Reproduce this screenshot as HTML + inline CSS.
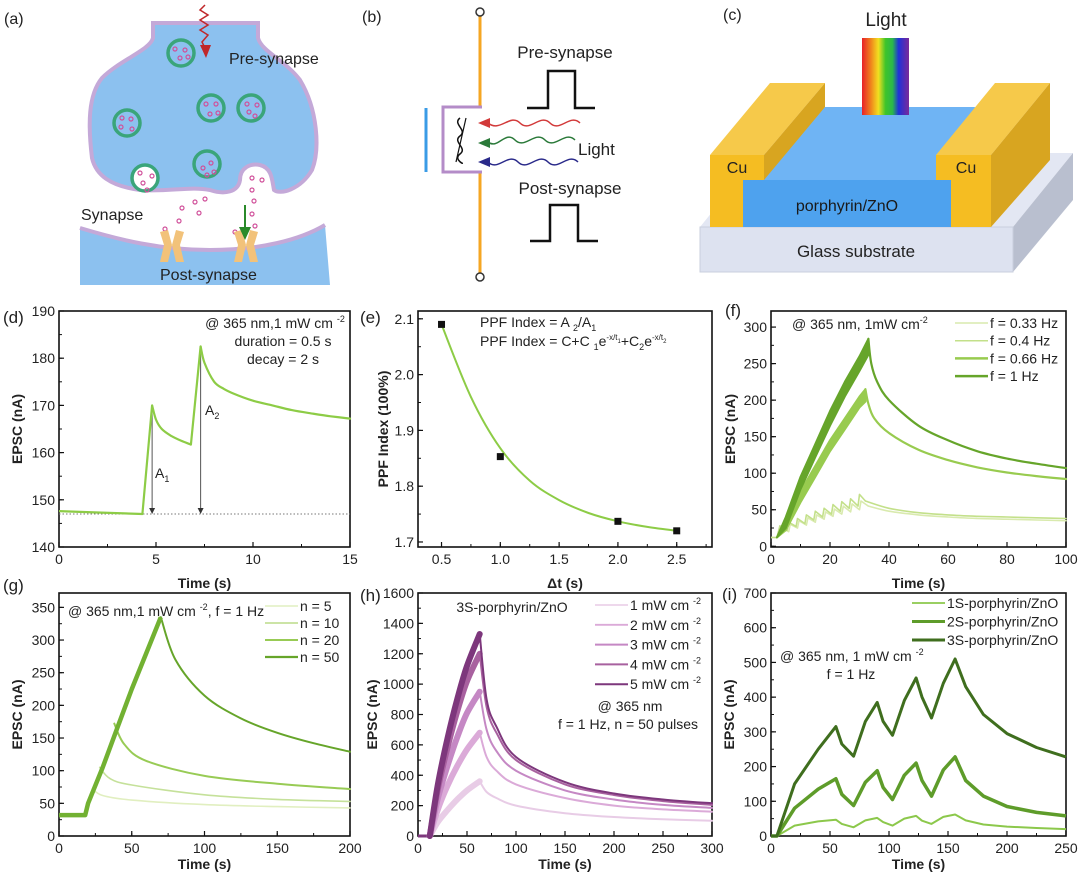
<!DOCTYPE html>
<html><head><meta charset="utf-8"><title>Optoelectronic synapse figure</title>
<style>
html,body{margin:0;padding:0;background:#fff;}
svg{display:block;font-family:"Liberation Sans",Arial,sans-serif;}
.t{font-size:15px;fill:#222;}
.pl{font-size:16px;fill:#222;}
</style></head>
<body>
<svg id="fig" width="1080" height="877" viewBox="0 0 1080 877" xmlns="http://www.w3.org/2000/svg">
<rect x="0" y="0" width="1080" height="877" fill="#fff"/>

<!-- (a) synapse diagram -->
<g>
  <text class="pl" x="4" y="24">(a)</text>
  <path d="M80,228 C120,240 160,250 210,250 C260,250 300,240 325,225 L330,285 L80,285 Z" fill="#8cc1ef"/>
  <path d="M80,228 C120,240 160,250 210,250 C260,250 300,240 325,225" fill="none" stroke="#c4a9d8" stroke-width="4"/>
  <path d="M153,23 L153,38 C150,50 120,60 102,78 C88,95 88,125 92,158 C96,175 110,186 140,190 C170,192 190,186 210,190 C225,195 238,192 240,180 C240,168 250,163 260,165 C272,168 272,180 274,190 C280,195 300,190 312,170 C320,150 318,110 300,80 C285,60 262,52 258,38 L258,23 Z" fill="#8cc1ef" stroke="#c4a9d8" stroke-width="4"/>
  <g fill="#8cc1ef" stroke="#3aa57a" stroke-width="3.5">
    <circle cx="181" cy="53" r="13"/><circle cx="211" cy="108" r="13"/><circle cx="251" cy="108" r="13"/>
    <circle cx="127" cy="123" r="13"/><circle cx="207" cy="164" r="13"/><circle cx="145" cy="178" r="13" fill="#fff"/>
  </g>
  <g fill="none" stroke="#d0509a" stroke-width="1.2">
    <circle cx="175" cy="49" r="2"/><circle cx="185" cy="50" r="2"/><circle cx="180" cy="58" r="2"/><circle cx="188" cy="57" r="2"/>
    <circle cx="206" cy="104" r="2"/><circle cx="216" cy="104" r="2"/><circle cx="210" cy="114" r="2"/><circle cx="218" cy="113" r="2"/>
    <circle cx="247" cy="104" r="2"/><circle cx="257" cy="105" r="2"/><circle cx="249" cy="112" r="2"/><circle cx="255" cy="116" r="2"/>
    <circle cx="122" cy="118" r="2"/><circle cx="131" cy="119" r="2"/><circle cx="121" cy="127" r="2"/><circle cx="132" cy="129" r="2"/>
    <circle cx="203" cy="168" r="2"/><circle cx="211" cy="163" r="2"/><circle cx="214" cy="172" r="2"/><circle cx="207" cy="175" r="2"/>
    <circle cx="140" cy="173" r="2"/><circle cx="152" cy="176" r="2"/><circle cx="143" cy="183" r="2"/><circle cx="147" cy="190" r="2"/>
    <circle cx="252" cy="178" r="2"/><circle cx="262" cy="180" r="2"/><circle cx="252" cy="190" r="2"/><circle cx="254" cy="201" r="2"/>
    <circle cx="252" cy="214" r="2"/><circle cx="255" cy="226" r="2"/><circle cx="235" cy="232" r="2"/>
    <circle cx="205" cy="199" r="2"/><circle cx="195" cy="202" r="2"/><circle cx="182" cy="208" r="2"/><circle cx="199" cy="213" r="2"/>
    <circle cx="179" cy="221" r="2"/><circle cx="165" cy="229" r="2"/>
  </g>
  <g fill="#f2c27a">
    <path d="M160,232 L168,230 L172,245 L168,262 L160,262 L164,245 Z"/><path d="M184,232 L176,230 L172,245 L176,262 L184,262 L180,245 Z"/>
    <path d="M234,232 L242,230 L246,245 L242,262 L234,262 L238,245 Z"/><path d="M258,232 L250,230 L246,245 L250,262 L258,262 L254,245 Z"/>
  </g>
  <path d="M205,5 L200,10 L208,15 L200,20 L208,25 L200,30 L208,35 L202,42 L206,50" fill="none" stroke="#c0282a" stroke-width="1.5"/>
  <path d="M200,45 L206,58 L211,45 Z" fill="#c0282a"/>
  <line x1="245" y1="205" x2="245" y2="232" stroke="#2a8a2a" stroke-width="2"/>
  <path d="M239,227 L245,240 L251,227 Z" fill="#2a8a2a"/>
  <text x="229" y="64" font-size="16" fill="#222">Pre-synapse</text>
  <text x="81" y="220" font-size="16" fill="#222">Synapse</text>
  <text x="160" y="280" font-size="16" fill="#222">Post-synapse</text>
</g>

<!-- (b) circuit -->
<g>
  <text class="pl" x="362" y="22">(b)</text>
  <line x1="480" y1="16" x2="480" y2="106" stroke="#f5a623" stroke-width="3"/>
  <line x1="480" y1="171" x2="480" y2="273" stroke="#f5a623" stroke-width="3"/>
  <circle cx="480" cy="12" r="4" fill="#fff" stroke="#333" stroke-width="1.5"/>
  <circle cx="480" cy="277" r="4" fill="#fff" stroke="#333" stroke-width="1.5"/>
  <path d="M482,107 L443,107 L443,172 L482,172" fill="none" stroke="#b48cc8" stroke-width="3"/>
  <line x1="426" y1="108" x2="426" y2="172" stroke="#3a9be6" stroke-width="3"/>
  <path d="M460,118 C452,124 468,130 460,136 C452,142 468,148 460,154 C452,160 468,166 460,162" fill="none" stroke="#111" stroke-width="1.5"/>
  <line x1="456" y1="162" x2="466" y2="118" stroke="#111" stroke-width="1.2"/>
  <path d="M580,123 C570,113 560,133 550,123 C540,113 530,133 520,123 C510,113 500,133 488,123" fill="none" stroke="#d23a3a" stroke-width="1.5"/>
  <path d="M478,123 L490,118 L490,128 Z" fill="#d23a3a"/>
  <path d="M575,140 C565,130 555,150 545,140 C535,130 525,150 515,140 C505,130 498,150 488,142" fill="none" stroke="#2b7a3a" stroke-width="1.5"/>
  <path d="M478,143 L490,138 L490,148 Z" fill="#2b7a3a"/>
  <path d="M578,162 C568,152 558,172 548,162 C538,152 528,172 518,162 C508,152 498,172 488,162" fill="none" stroke="#2a2a8a" stroke-width="1.5"/>
  <path d="M478,162 L490,157 L490,167 Z" fill="#2a2a8a"/>
  <text x="578" y="155" font-size="17" fill="#222">Light</text>
  <text x="565" y="58" font-size="17" fill="#222" text-anchor="middle">Pre-synapse</text>
  <path d="M527,108 L548,108 L548,71 L575,71 L575,108 L595,108" fill="none" stroke="#111" stroke-width="2.5"/>
  <text x="570" y="194" font-size="17" fill="#222" text-anchor="middle">Post-synapse</text>
  <path d="M530,241 L550,241 L550,205 L578,205 L578,241 L598,241" fill="none" stroke="#111" stroke-width="2.5"/>
</g>

<!-- (c) device -->
<g>
  <defs>
    <linearGradient id="spec" x1="0" x2="1" y1="0" y2="0">
      <stop offset="0" stop-color="#e8202a"/><stop offset="0.2" stop-color="#f08a1c"/><stop offset="0.35" stop-color="#f2e020"/>
      <stop offset="0.5" stop-color="#3ec42a"/><stop offset="0.65" stop-color="#2ab84a"/><stop offset="0.78" stop-color="#2030d8"/><stop offset="1" stop-color="#7a2a9a"/>
    </linearGradient>
  </defs>
  <text class="pl" x="723" y="20">(c)</text>
  <polygon points="700,227 1013,227 1073,153 760,153" fill="#e3e7f3"/>
  <polygon points="1013,227 1073,153 1073,200 1013,272" fill="#b9bfcf"/>
  <rect x="700" y="227" width="313" height="45" fill="#dde2f0" stroke="#c9cfde"/>
  <text x="856" y="257" font-size="17" fill="#222" text-anchor="middle">Glass substrate</text>
  <polygon points="743,180 951,180 975,107 825,107" fill="#6fb4f4"/>
  <rect x="743" y="180" width="208" height="47" fill="#4ea2ee"/>
  <text x="847" y="211" font-size="16" fill="#1a1a1a" text-anchor="middle">porphyrin/ZnO</text>
  <polygon points="710,155 764,155 825,83 770,83" fill="#f6c94a"/>
  <polygon points="764,155 825,83 825,107 764,180" fill="#d8a520"/>
  <rect x="710" y="155" width="33" height="72" fill="#f5bd22"/>
  <rect x="743" y="155" width="21" height="25" fill="#f5bd22"/>
  <text x="737" y="173" font-size="16" fill="#222" text-anchor="middle">Cu</text>
  <polygon points="936,155 991,155 1050,83 995,83" fill="#f6c94a"/>
  <polygon points="991,155 1050,83 1050,160 991,227" fill="#d8a520"/>
  <rect x="951" y="155" width="40" height="72" fill="#f5bd22"/>
  <rect x="936" y="155" width="15" height="25" fill="#f5bd22"/>
  <text x="966" y="173" font-size="16" fill="#222" text-anchor="middle">Cu</text>
  <rect x="862" y="38" width="47" height="77" fill="url(#spec)"/>
  <text x="886" y="26" font-size="19" fill="#222" text-anchor="middle">Light</text>
</g>

<g id="charts"></g>
</svg>

<script>
// ---------- (d) paired-pulse EPSC ----------
const dTime = [0,2,4.3,4.8,5.0,5.3,5.8,6.3,6.8,7.3,7.5,8,8.5,9,10,11,12,13,14,15];
const dEPSC = [147.6,147.3,147,170,167,165,163.5,162.5,161.7,182.5,179,175,173.5,172.5,171,170,169,168.3,167.7,167.2];
const dBaseline = 147;
const dPulseTimes = [4.8,7.3];
const dPeaks = [170,182.5];
const dXTicks = [0,5,10,15];
const dYTicks = [140,150,160,170,180,190];
// ---------- (e) PPF index ----------
const eDt = [0.5,1.0,2.0,2.5];
const ePPF = [2.09,1.853,1.737,1.72];
const eFitDt = [0.5,0.75,1.0,1.25,1.5,1.75,2.0,2.25,2.5];
const eFitPPF = [2.09,1.96,1.868,1.81,1.775,1.752,1.737,1.727,1.72];
const eXTicks = [0.5,1.0,1.5,2.0,2.5];
const eYTicks = [1.7,1.8,1.9,2.0,2.1];
// ---------- (f) frequency dependence ----------
const f033T = [0,2,3,3.5,6,6.5,9,9.5,12,12.5,15,15.5,18,18.5,21,21.5,24,24.5,27,27.5,30,30.5,33,40,50,60,70,80,90,100];
const f033V = [12,12,18,25,20,30,25,35,29,39,33,43,37,47,41,51,44,55,47,58,50,62,55,48,43,40,38,37,36,35];
const f04T = [0,2,2.5,3,5.5,6,8.5,9,11.5,12,14.5,15,17.5,18,20.5,21,23.5,24,26.5,27,29.5,30,32,40,50,60,70,80,90,100];
const f04V = [12,12,20,28,22,33,27,38,31,43,36,48,40,52,44,57,48,61,52,65,55,71,62,52,46,43,41,40,39,38];
const f066RiseT = [2,5,10,15,20,25,30,32];
const f066RiseHi = [12,35,75,110,145,175,205,215];
const f066RiseLo = [12,22,60,95,130,160,190,198];
const f066DecayT = [32,33,35,40,50,60,70,80,90,100];
const f066DecayV = [215,195,175,155,132,118,108,101,96,92];
const f1RiseT = [2,5,10,15,20,25,30,33];
const f1RiseHi = [12,40,95,140,185,225,260,284];
const f1RiseLo = [12,25,78,122,165,205,240,262];
const f1DecayT = [33,34,36,40,50,60,70,80,90,100];
const f1DecayV = [284,250,225,200,165,145,130,120,113,107];
const fXTicks = [0,20,40,60,80,100];
const fYTicks = [0,50,100,150,200,250,300];
const fLegend = ["f = 0.33 Hz","f = 0.4 Hz","f = 0.66 Hz","f = 1 Hz"];
// ---------- (g) pulse-number dependence ----------
const gRiseT = [0,18,20,30,40,50,60,70];
const gRiseV = [32,32,50,105,165,225,280,335];
const gN5T = [23,30,50,100,150,200];   const gN5V = [72,62,55,48,45,43];
const gN10T = [28,35,50,100,150,200];  const gN10V = [105,88,78,63,56,53];
const gN20T = [38,45,60,100,150,200];  const gN20V = [172,140,115,92,80,72];
const gN50T = [70,80,100,125,150,175,200]; const gN50V = [335,270,215,180,158,142,129];
const gXTicks = [0,50,100,150,200];
const gYTicks = [0,50,100,150,200,250,300,350];
const gLegend = ["n = 5","n = 10","n = 20","n = 50"];
// ---------- (h) intensity dependence ----------
const hRiseT = [12,20,30,40,50,63];
const hDecayT = [63,70,80,100,150,200,250,300];
const hRise1 = [0,90,170,240,300,360];     const hDecay1 = [360,290,250,200,150,125,110,100];
const hRise2 = [0,170,330,460,570,680];    const hDecay2 = [680,520,430,340,250,200,175,160];
const hRise3 = [0,240,460,650,810,950];    const hDecay3 = [950,700,560,430,300,240,205,185];
const hRise4 = [0,300,580,820,1020,1200];  const hDecay4 = [1200,850,680,500,340,270,230,205];
const hRise5 = [0,330,640,900,1120,1330];  const hDecay5 = [1330,900,720,520,355,280,240,215];
const hBaseT = [0,12];
const hBaseV = [0,0];
const hXTicks = [0,50,100,150,200,250,300];
const hYTicks = [0,200,400,600,800,1000,1200,1400,1600];
const hLegend = ["1 mW cm","2 mW cm","3 mW cm","4 mW cm","5 mW cm"];
// ---------- (i) porphyrin layers ----------
const iTime = [0,5,20,40,55,60,70,80,90,95,103,113,123,128,136,146,156,165,180,200,225,250];
const i1S = [0,0,30,42,47,35,25,45,52,40,30,50,58,44,35,55,62,45,33,27,23,20];
const i2S = [0,0,80,135,165,120,88,155,188,140,105,175,210,160,115,190,228,160,115,85,68,58];
const i3S = [0,0,150,250,315,265,230,330,385,330,290,390,455,400,340,440,510,430,350,295,255,228];
const iXTicks = [0,50,100,150,200,250];
const iYTicks = [0,100,200,300,400,500,600,700];
const iLegend = ["1S-porphyrin/ZnO","2S-porphyrin/ZnO","3S-porphyrin/ZnO"];

const NS = 'http://www.w3.org/2000/svg';
const root = document.getElementById('charts');
function mk(tag, attrs, parent){
  const el = document.createElementNS(NS, tag);
  for (const k in attrs) el.setAttribute(k, attrs[k]);
  (parent || root).appendChild(el);
  return el;
}
function makeChart(o){
  const g = mk('g', {});
  
  
  o.g = g;
  o.sx = v => o.x0 + (v - o.xmin) / (o.xmax - o.xmin) * (o.x1 - o.x0);
  o.sy = v => o.y1 - (v - o.ymin) / (o.ymax - o.ymin) * (o.y1 - o.y0);
  return o;
}
function drawAxes(c, xt, yt, xm, ym, fmtX, fmtY){
  const ax = mk('g', {}, c.g);
  
  
  xt.forEach(v => {
    const x = c.sx(v);
    mk('line', {x1:x, x2:x, y1:c.y1, y2:c.y1-5, stroke:'#111', 'stroke-width':1.2}, ax);
    const t = mk('text', {x:x, y:c.y1+17, 'text-anchor':'middle', 'font-size':14, fill:'#222'}, ax);
    t.textContent = fmtX(v);
    
    
  });
  for (let v = xm[0]; v <= c.xmax + 1e-9; v += xm[1]) {
    const x = c.sx(v);
    if (x < c.x0 || x > c.x1) continue;
    mk('line', {x1:x, x2:x, y1:c.y1, y2:c.y1-3, stroke:'#111', 'stroke-width':1}, ax);
  }
  yt.forEach(v => {
    const y = c.sy(v);
    mk('line', {x1:c.x0, x2:c.x0+5, y1:y, y2:y, stroke:'#111', 'stroke-width':1.2}, ax);
    const t = mk('text', {x:c.x0-4, y:y+5, 'text-anchor':'end', 'font-size':14, fill:'#222'}, ax);
    t.textContent = fmtY(v);
    
    
  });
  for (let v = ym[0]; v <= c.ymax + 1e-9; v += ym[1]) {
    const y = c.sy(v);
    if (y < c.y0 || y > c.y1) continue;
    mk('line', {x1:c.x0, x2:c.x0+3, y1:y, y2:y, stroke:'#111', 'stroke-width':1}, ax);
  }
  const fr = mk('rect', {x:c.x0, y:c.y0, width:c.x1-c.x0, height:c.y1-c.y0, fill:'none', stroke:'#111', 'stroke-width':1.6}, ax);
  
  
  const xl = mk('text', {x:(c.x0+c.x1)/2, y:c.xTitleY, 'text-anchor':'middle', 'font-size':14, 'font-weight':'bold', fill:'#222'}, ax);
  xl.textContent = c.xTitle;
  
  
  const yl = mk('text', {x:0, y:0, transform:`translate(${c.yTitleX},${(c.y0+c.y1)/2}) rotate(-90)`, 'text-anchor':'middle', 'font-size':14, 'font-weight':'bold', fill:'#222'}, ax);
  yl.textContent = c.yTitle;
  
  
  const pl = mk('text', {x:c.plx, y:c.ply, 'font-size':17, fill:'#222'}, ax);
  pl.textContent = c.label;
  
  
}
function pts(c, ts, vs){ return ts.map((t,i) => c.sx(t).toFixed(1) + ',' + c.sy(vs[i]).toFixed(1)).join(' '); }
function series(c, ts, vs, color, w, name){
  const p = mk('polyline', {points:pts(c, ts, vs), fill:'none', stroke:color, 'stroke-width':w, 'stroke-linejoin':'round'}, c.g);
  
  
  return p;
}
function smoothD(c, ts, vs){
  const P = ts.map((t,i) => [c.sx(t), c.sy(vs[i])]);
  let d = 'M' + P[0][0].toFixed(1) + ',' + P[0][1].toFixed(1);
  for (let i = 0; i < P.length - 1; i++) {
    const p0 = P[Math.max(0,i-1)], p1 = P[i], p2 = P[i+1], p3 = P[Math.min(P.length-1,i+2)];
    const c1x = p1[0] + (p2[0]-p0[0])/6, c1y = p1[1] + (p2[1]-p0[1])/6;
    const c2x = p2[0] - (p3[0]-p1[0])/6, c2y = p2[1] - (p3[1]-p1[1])/6;
    d += ` C${c1x.toFixed(1)},${c1y.toFixed(1)} ${c2x.toFixed(1)},${c2y.toFixed(1)} ${p2[0].toFixed(1)},${p2[1].toFixed(1)}`;
  }
  return d;
}
function smooth(c, ts, vs, color, w, name){
  const p = mk('path', {d:smoothD(c, ts, vs), fill:'none', stroke:color, 'stroke-width':w, 'stroke-linejoin':'round', 'stroke-linecap':'round'}, c.g);
  
  
  return p;
}
function band(c, ts, hi, lo, color, name){
  const a = ts.map((t,i) => c.sx(t).toFixed(1)+','+c.sy(hi[i]).toFixed(1));
  const b = ts.map((t,i) => c.sx(t).toFixed(1)+','+c.sy(lo[i]).toFixed(1)).reverse();
  const p = mk('polygon', {points:a.concat(b).join(' '), fill:color, stroke:color, 'stroke-width':2, 'stroke-linejoin':'round'}, c.g);
  
  
}
function txt(c, x, y, s, anchor, size, name){
  const t = mk('text', {x:x, y:y, 'text-anchor':anchor||'start', 'font-size':size||14, fill:'#222'}, c.g);
  t.innerHTML = s;
  
  
  return t;
}
function legend(c, x, y0, dy, labels, colors, widths, sup, size){
  labels.forEach((lab, i) => {
    const y = y0 + i*dy;
    const l = mk('line', {x1:x, x2:x+33, y1:y, y2:y, stroke:colors[i], 'stroke-width':widths[i]}, c.g);
    
    
    const t = mk('text', {x:x+35, y:y+5, 'font-size':size||14, fill:'#222'}, c.g);
    t.innerHTML = lab + (sup ? ' <tspan font-size="9" dy="-6">-2</tspan>' : '');
    
    
  });
}
const f0 = v => String(v), f1 = v => v.toFixed(1);

// ---- (d) ----
const cd = makeChart({name:'chart-d', x0:59, x1:350, y0:311, y1:547, xmin:0, xmax:15, ymin:140, ymax:190,
  xTitle:'Time (s)', yTitle:'EPSC (nA)', xTitleY:588, yTitleX:22, label:'(d)', plx:3, ply:323});
drawAxes(cd, dXTicks, dYTicks, [0,2.5], [140,5], f0, f0);
const dl = mk('line', {x1:cd.sx(0), x2:cd.sx(15), y1:cd.sy(dBaseline), y2:cd.sy(dBaseline), stroke:'#777', 'stroke-width':1, 'stroke-dasharray':'1.5,2'}, cd.g);


dPulseTimes.forEach((t,i) => {
  const a = mk('line', {x1:cd.sx(t), x2:cd.sx(t), y1:cd.sy(dPeaks[i]), y2:cd.sy(dBaseline)-3, stroke:'#555', 'stroke-width':1}, cd.g);
  
  
  mk('path', {d:`M${cd.sx(t)-3},${cd.sy(dBaseline)-6} L${cd.sx(t)},${cd.sy(dBaseline)} L${cd.sx(t)+3},${cd.sy(dBaseline)-6} Z`, fill:'#333'}, cd.g);
});
series(cd, dTime.slice(0,4), dEPSC.slice(0,4), '#8dcc46', 2.2, 'epsc-trace-baseline-rise1');
smooth(cd, dTime.slice(3,9), dEPSC.slice(3,9), '#8dcc46', 2.2, 'epsc-trace-decay1');
series(cd, dTime.slice(8,10), dEPSC.slice(8,10), '#8dcc46', 2.2, 'epsc-trace-rise2');
smooth(cd, dTime.slice(9), dEPSC.slice(9), '#8dcc46', 2.2, 'epsc-trace-decay2');
txt(cd, 155, 478, 'A<tspan font-size="9" dy="4">1</tspan>', 'start', 14, 'a1-label');
txt(cd, 205, 415, 'A<tspan font-size="9" dy="4">2</tspan>', 'start', 14, 'a2-label');
txt(cd, 275, 328, '@ 365 nm,1 mW cm <tspan font-size="9" dy="-6">-2</tspan>', 'middle', 14, 'condition-note');
txt(cd, 283, 346, 'duration = 0.5 s', 'middle', 14, 'duration-note');
txt(cd, 283, 364, 'decay = 2 s', 'middle', 14, 'decay-note');

// ---- (e) ----
const ce = makeChart({name:'chart-e', x0:418, x1:712, y0:311, y1:547, xmin:0.3, xmax:2.8, ymin:1.691, ymax:2.114,
  xTitle:'\u0394t (s)', yTitle:'PPF Index (100%)', xTitleY:588, yTitleX:388, label:'(e)', plx:360, ply:323});
drawAxes(ce, eXTicks, eYTicks, [0.5,0.25], [1.7,0.05], f1, f1);
smooth(ce, eFitDt, eFitPPF, '#8dcc46', 2, 'ppf-fit-curve');
eDt.forEach((t,i) => {
  const r = mk('rect', {x:ce.sx(t)-3.5, y:ce.sy(ePPF[i])-3.5, width:7, height:7, fill:'#111'}, ce.g);
  
  
});
txt(ce, 480, 327, 'PPF Index = A <tspan font-size="9" dy="4">2</tspan><tspan dy="-4">/A</tspan><tspan font-size="9" dy="4">1</tspan>', 'start', 14, 'ppf-formula-1');
txt(ce, 480, 346, 'PPF Index = C+C <tspan font-size="9" dy="4">1</tspan><tspan dy="-4">e</tspan><tspan font-size="8" dy="-6">-x/t</tspan><tspan font-size="6" dy="3">1</tspan><tspan dy="3">+C</tspan><tspan font-size="9" dy="4">2</tspan><tspan dy="-4">e</tspan><tspan font-size="8" dy="-6">-x/t</tspan><tspan font-size="6" dy="3">2</tspan>', 'start', 14, 'ppf-formula-2');

// ---- (f) ----
const cf = makeChart({name:'chart-f', x0:771, x1:1066, y0:311, y1:547, xmin:0, xmax:100, ymin:-1, ymax:322,
  xTitle:'Time (s)', yTitle:'EPSC (nA)', xTitleY:588, yTitleX:735, label:'(f)', plx:725, ply:316});
drawAxes(cf, fXTicks, fYTicks, [0,10], [0,25], f0, f0);
const fColors = ['#d9eaae','#c3e08a','#98cb4f','#66a52a'];
series(cf, f033T.slice(0,23), f033V.slice(0,23), fColors[0], 1.6, 'series-f-0.33hz-rise');
smooth(cf, f033T.slice(22), f033V.slice(22), fColors[0], 1.6, 'series-f-0.33hz-decay');
series(cf, f04T.slice(0,23), f04V.slice(0,23), fColors[1], 1.6, 'series-f-0.4hz-rise');
smooth(cf, f04T.slice(22), f04V.slice(22), fColors[1], 1.6, 'series-f-0.4hz-decay');
band(cf, f066RiseT, f066RiseHi, f066RiseLo, fColors[2], 'series-f-0.66hz-rise');
smooth(cf, f066DecayT, f066DecayV, fColors[2], 2.2, 'series-f-0.66hz-decay');
band(cf, f1RiseT, f1RiseHi, f1RiseLo, fColors[3], 'series-f-1hz-rise');
smooth(cf, f1DecayT, f1DecayV, fColors[3], 2.2, 'series-f-1hz-decay');
txt(cf, 792, 329, '@ 365 nm, 1mW cm<tspan font-size="9" dy="-6">-2</tspan>', 'start', 14, 'condition-note');
legend(cf, 955, 323, 17.7, fLegend, fColors, [1.5,1.5,2.5,2.5], false);

// ---- (g) ----
const cg = makeChart({name:'chart-g', x0:59, x1:350, y0:593, y1:836, xmin:0, xmax:200, ymin:0, ymax:372,
  xTitle:'Time (s)', yTitle:'EPSC (nA)', xTitleY:869, yTitleX:22, label:'(g)', plx:3, ply:591});
drawAxes(cg, gXTicks, gYTicks, [0,25], [0,25], f0, f0);
const gColors = ['#e1efc0','#c5e19a','#98cb55','#66a52a'];
smooth(cg, gN5T, gN5V, gColors[0], 1.6, 'series-n5');
smooth(cg, gN10T, gN10V, gColors[1], 1.6, 'series-n10');
smooth(cg, gN20T, gN20V, gColors[2], 2, 'series-n20');
smooth(cg, gN50T, gN50V, gColors[3], 2, 'series-n50');
series(cg, gRiseT, gRiseV, '#72b132', 4.5, 'series-rise-common');
txt(cg, 68, 616, '@ 365 nm,1 mW cm <tspan font-size="9" dy="-6">-2</tspan><tspan dy="6">, f = 1 Hz</tspan>', 'start', 14, 'condition-note');
legend(cg, 265, 606, 17, gLegend, gColors, [1.5,1.8,2,2.2], false);

// ---- (h) ----
const ch = makeChart({name:'chart-h', x0:418, x1:712, y0:593, y1:836, xmin:0, xmax:300, ymin:0, ymax:1600,
  xTitle:'Time (s)', yTitle:'EPSC (nA)', xTitleY:869, yTitleX:377, label:'(h)', plx:360, ply:601});
drawAxes(ch, hXTicks, hYTicks, [0,25], [0,100], f0, f0);
const hColors = ['#e8cce6','#dbaad8','#c588c4','#a8619f','#7d377c'];
const hRises = [hRise1,hRise2,hRise3,hRise4,hRise5];
const hDecays = [hDecay1,hDecay2,hDecay3,hDecay4,hDecay5];
series(ch, hBaseT, hBaseV, hColors[4], 3, 'baseline');
hRises.forEach((r,i) => {
  smooth(ch, hRiseT, r, hColors[i], 6, 'series-' + (i+1) + 'mw-rise');
  smooth(ch, hDecayT, hDecays[i], hColors[i], 2, 'series-' + (i+1) + 'mw-decay');
});
txt(ch, 512, 612, '3S-porphyrin/ZnO', 'middle', 14, 'sample-note');
legend(ch, 595, 605, 19.8, hLegend, hColors, [1.5,1.8,2,2,2], true);
txt(ch, 630, 711, '@ 365 nm', 'middle', 14, 'wavelength-note');
txt(ch, 628, 729, 'f = 1 Hz, n = 50 pulses', 'middle', 14, 'pulse-note');

// ---- (i) ----
const ci = makeChart({name:'chart-i', x0:771, x1:1066, y0:593, y1:836, xmin:0, xmax:250, ymin:0, ymax:700,
  xTitle:'Time (s)', yTitle:'EPSC (nA)', xTitleY:869, yTitleX:734, label:'(i)', plx:722, ply:600});
drawAxes(ci, iXTicks, iYTicks, [0,25], [0,50], f0, f0);
const iColors = ['#8cc84b','#5e9c2a','#3f6e1e'];
series(ci, iTime, i1S, iColors[0], 2, 'series-1s');
series(ci, iTime, i2S, iColors[1], 3.5, 'series-2s');
series(ci, iTime, i3S, iColors[2], 3, 'series-3s');
legend(ci, 912, 603, 18.5, iLegend, iColors, [1.8,3,3], false);
txt(ci, 780, 661, '@ 365 nm, 1 mW cm <tspan font-size="9" dy="-6">-2</tspan>', 'start', 14, 'condition-note');
txt(ci, 851, 679, 'f = 1 Hz', 'middle', 14, 'frequency-note');
</script>
</body></html>
